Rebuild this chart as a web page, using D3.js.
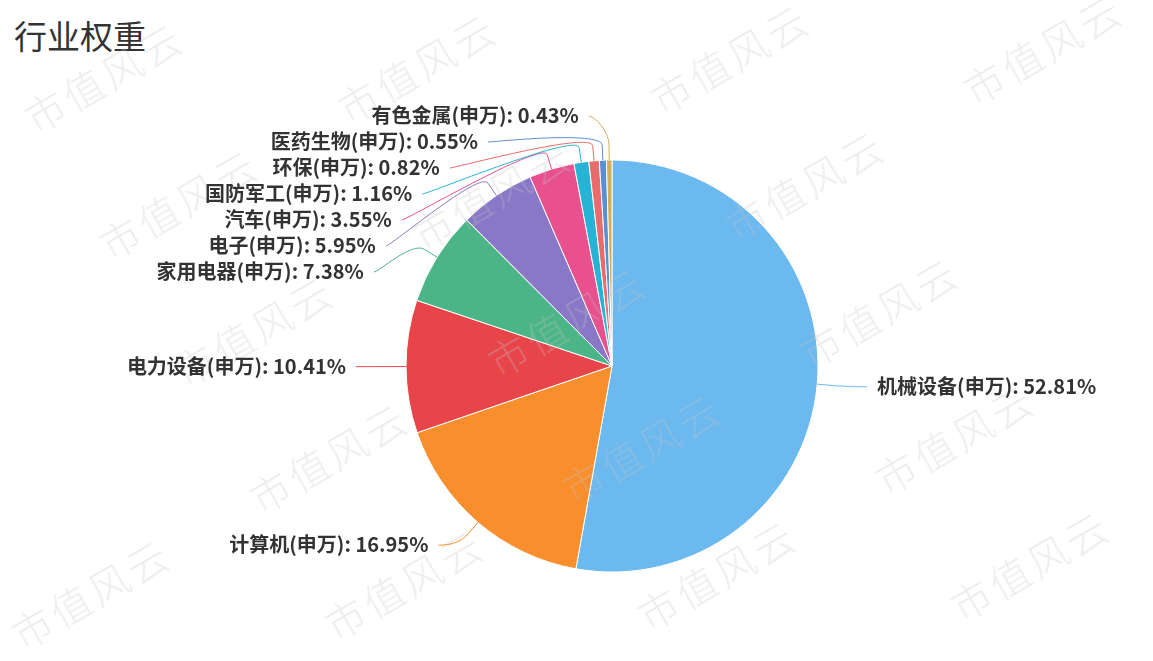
<!DOCTYPE html>
<html>
<head>
<meta charset="utf-8">
<script src="https://cdn.jsdelivr.net/npm/d3@7"></script>
<style>
  html, body { margin: 0; padding: 0; background: #fff; }
  svg { display: block; font-family: "Noto Sans CJK SC", "Noto Sans", sans-serif; }
</style>
</head>
<body>
<div id="chart"></div>
<script>
const WIDTH = 1153;
const HEIGHT = 661;

const title = "行业权重";
const watermark = "市值风云";

const categories = [
  "机械设备(申万)", "计算机(申万)", "电力设备(申万)", "家用电器(申万)", "电子(申万)",
  "汽车(申万)", "国防军工(申万)", "环保(申万)", "医药生物(申万)", "有色金属(申万)"
];
const weights = [52.81, 16.95, 10.41, 7.38, 5.95, 3.55, 1.16, 0.82, 0.55, 0.43];
const colors = [
  "#6cb9f0", "#f98e2c", "#e8454a", "#4cb587", "#8878c7",
  "#e8508e", "#27b3d5", "#ea6b6b", "#5a8fd4", "#d2ad56"
];

const cx = 612;
const cy = 366;
const radius = 206;
const labelDistance = 30;
const labelPad = 20;   // extra room between slice edge and label anchor
const labelGap = 26;   // vertical spacing of stacked labels
const labelTop = 116;
const labelBottom = 620;

const data = categories.map((name, i) => ({ name, value: weights[i], color: colors[i] }));

const svg = d3.select("#chart")
  .append("svg")
  .attr("width", WIDTH)
  .attr("height", HEIGHT);

svg.append("text")
  .attr("x", 14)
  .attr("y", 49)
  .attr("fill", "#333")
  .style("font-size", "33px")
  .text(title);

const pie = d3.pie().sort(null).value(d => d.value);
const arc = d3.arc().innerRadius(0).outerRadius(radius);
const arcs = pie(data);

const g = svg.append("g").attr("transform", `translate(${cx},${cy})`);

g.selectAll("path.slice")
  .data(arcs)
  .enter()
  .append("path")
  .attr("class", "slice")
  .attr("d", arc)
  .attr("fill", d => d.data.color)
  .attr("stroke", "#fff")
  .attr("stroke-width", 1);

// label layout: natural position, then stack the crowded ones on each side
const labels = arcs.map(d => {
  const mid = (d.startAngle + d.endAngle) / 2;
  const s = Math.sin(mid), c = Math.cos(mid);
  return {
    d,
    mid,
    left: s < 0,
    base: [cx + radius * s, cy - radius * c],
    brk: [cx + (radius + 15) * s, cy - (radius + 15) * c],
    naturalX: (radius + labelDistance) * Math.abs(s) + labelPad,
    ny: cy - (radius + labelDistance) * c
  };
});

function distribute(items) {
  items.sort((a, b) => a.ny - b.ny);
  let groups = items.map(it => ({ items: [it] }));
  const place = grp => {
    const n = grp.items.length;
    const mean = d3.mean(grp.items, it => it.ny);
    let top = mean - (n - 1) * labelGap / 2;
    top = Math.max(labelTop, Math.min(labelBottom - (n - 1) * labelGap, top));
    grp.top = top;
  };
  groups.forEach(place);
  let merged = true;
  while (merged) {
    merged = false;
    for (let i = 0; i < groups.length - 1; i++) {
      const a = groups[i], b = groups[i + 1];
      if (a.top + a.items.length * labelGap > b.top) {
        const grp = { items: a.items.concat(b.items) };
        place(grp);
        groups.splice(i, 2, grp);
        merged = true;
        break;
      }
    }
  }
  groups.forEach(grp => grp.items.forEach((it, i) => { it.y = grp.top + i * labelGap; }));
}

distribute(labels.filter(l => l.left));
distribute(labels.filter(l => !l.left));

const R = radius + 50;
labels.forEach(l => {
  const dir = l.left ? -1 : 1;
  let off;
  if (Math.abs(l.y - l.ny) < 1 || l.y <= labelTop + 0.5) {
    off = l.naturalX;
  } else {
    const dy = l.y - cy;
    off = Math.sqrt(Math.max(0, R * R - dy * dy));
  }
  l.x = cx + dir * off;
});

// watermark grid, faint, behind the labels
const wm = svg.append("g")
  .attr("fill", "#c4c4c4")
  .attr("opacity", 0.3)
  .style("font-size", "40px")
  .style("font-weight", 300)
  .style("letter-spacing", "4px");
for (let k = -1; k < 6; k++) {
  const rowY = 82 + 129 * k;
  const shift = ((105 + 75 * k) % 313 + 313) % 313 - 313;
  for (let x = shift; x < WIDTH + 313; x += 313) {
    const y = rowY - 0.03 * x;
    if (x < 40 || x > WIDTH - 40 || y < 30 || y > HEIGHT - 30) continue;
    wm.append("text")
      .attr("text-anchor", "middle")
      .attr("dy", "0.35em")
      .attr("transform", `translate(${x},${y}) rotate(-30)`)
      .text(watermark);
  }
}

const conn = svg.append("g").attr("fill", "none");
labels.forEach(l => {
  const dir = l.left ? 1 : -1; // toward the pie
  const p = d3.path();
  p.moveTo(l.x, l.y);
  p.bezierCurveTo(
    l.x + dir * 5, l.y,
    2 * l.brk[0] - l.base[0], 2 * l.brk[1] - l.base[1],
    l.brk[0], l.brk[1]
  );
  p.lineTo(l.base[0], l.base[1]);
  conn.append("path")
    .attr("d", p.toString())
    .attr("stroke", l.d.data.color)
    .attr("stroke-width", 1);
});

svg.append("g")
  .selectAll("text")
  .data(labels)
  .enter()
  .append("text")
  .attr("x", l => l.left ? l.x - 10 : l.x + 10)
  .attr("y", l => l.y)
  .attr("dy", "0.36em")
  .attr("text-anchor", l => l.left ? "end" : "start")
  .attr("fill", "#333")
  .style("font-size", "20px")
  .style("font-weight", "bold")
  .text(l => `${l.d.data.name}: ${d3.format(".2f")(l.d.data.value)}%`);
</script>
</body>
</html>
